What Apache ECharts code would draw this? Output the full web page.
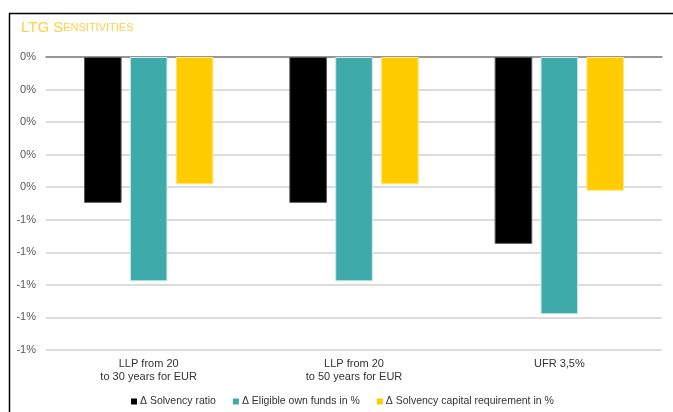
<!DOCTYPE html>
<html>
<head>
<meta charset="utf-8">
<script src="https://cdn.jsdelivr.net/npm/echarts@6/dist/echarts.min.js"></script>
<style>
  html, body { margin: 0; padding: 0; background: #fff; }
  #chart { width: 673px; height: 412px; }
</style>
</head>
<body>
<div id="chart"></div>
<script>
// categories and series (values in %)
const categories = ['LLP from 20\nto 30 years for EUR', 'LLP from 20\nto 50 years for EUR', 'UFR 3,5%']
const seriesNames = ['\u0394 Solvency ratio', '\u0394 Eligible own funds in %', '\u0394 Solvency capital requirement in %']
const solvencyRatio = [-0.448, -0.448, -0.574]
const eligibleOwnFunds = [-0.689, -0.689, -0.79]
const scrChange = [-0.391, -0.391, -0.411]
const colors = ['#000000', '#3FAAAA', '#FFCC00']

const myChart = echarts.init(document.getElementById('chart'))

// Excel style rounding: -0.5 -> -1%
const pctLabel = v => {
  const r = Math.round(Math.abs(v) + 1e-9)
  return (v < 0 && r > 0 ? '-' : '') + r + '%'
}

const makeBar = (name, data, color, border) => ({
  name: name,
  type: 'bar',
  data: data,
  barGap: '22%',
  barCategoryGap: '37%',
  itemStyle: {
    color: color,
    borderColor: border,
    borderWidth: 1
  }
})

const option = {
  animation: false,
  textStyle: { fontFamily: 'Liberation Sans, Arial, sans-serif' },
  title: {
    text: '{a|LTG S}{b|ENSITIVITIES}',
    left: 16,
    top: 15,
    textStyle: {
      fontWeight: 'normal',
      rich: {
        a: { fontSize: 15, color: '#FFD043', fontWeight: 'normal', fontFamily: 'Liberation Sans' },
        b: { fontSize: 11, color: '#FFD043', fontWeight: 'normal', fontFamily: 'Liberation Sans' }
      }
    }
  },
  graphic: [
    { type: 'line', shape: { x1: 9, y1: 13.5, x2: 673, y2: 13.5 }, style: { stroke: '#000', lineWidth: 1.5 } },
    { type: 'line', shape: { x1: 9.5, y1: 13, x2: 9.5, y2: 412 }, style: { stroke: '#000', lineWidth: 1.5 } }
  ],
  legend: {
    top: 391,
    left: 126,
    icon: 'rect',
    itemWidth: 6,
    itemHeight: 6,
    itemGap: 17,
    data: seriesNames,
    itemStyle: { borderWidth: 0 },
    textStyle: { fontSize: 10.5, color: '#333', padding: [0, 0, 0, -2] }
  },
  grid: {
    left: 46,
    right: 11,
    top: 57,
    bottom: 62
  },
  xAxis: [
    {
      type: 'category',
      data: categories,
      axisLine: { show: false, onZero: false },
      axisTick: { show: false },
      axisLabel: { fontSize: 11, color: '#333', lineHeight: 13, margin: 7 }
    },
    {
      type: 'category',
      position: 'top',
      data: categories,
      axisLine: { show: true, onZero: false, lineStyle: { color: '#7F7F7F', width: 1.5 } },
      axisTick: { show: false },
      axisLabel: { show: false }
    }
  ],
  yAxis: {
    type: 'value',
    min: -0.9,
    max: 0,
    interval: 0.1,
    axisLine: { show: false },
    axisTick: { show: false },
    axisLabel: { fontSize: 11, color: '#595959', margin: 10, formatter: pctLabel },
    splitLine: { lineStyle: { color: '#D0D0D0', width: 1.5 } }
  },
  series: [
    makeBar(seriesNames[0], solvencyRatio, colors[0], '#555'),
    makeBar(seriesNames[1], eligibleOwnFunds, colors[1], '#CDE9E9'),
    makeBar(seriesNames[2], scrChange, colors[2], '#FFE680')
  ]
}

myChart.setOption(option)
</script>
</body>
</html>
